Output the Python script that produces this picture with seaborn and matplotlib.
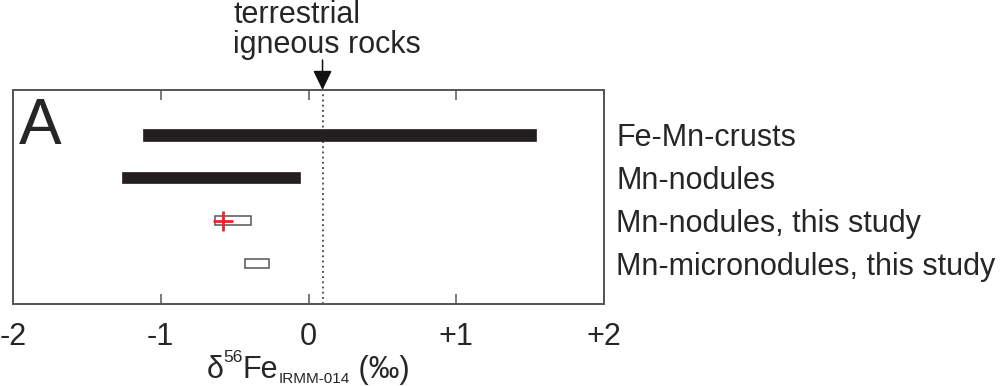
import matplotlib
matplotlib.use("Agg")
import matplotlib.pyplot as plt
import seaborn as sns
import pandas as pd

# Published ranges of delta-56Fe for marine Fe-Mn deposits
categories = ["Fe-Mn-crusts", "Mn-nodules",
              "Mn-nodules, this study", "Mn-micronodules, this study"]
range_low = [-1.12, -1.26, -0.635, -0.43]
range_high = [1.54, -0.06, -0.39, -0.27]
filled = [True, True, False, False]

# Mean value of the nodule samples
mean_x = [-0.58]
mean_cat = ["Mn-nodules, this study"]

# Reference value for terrestrial igneous rocks
igneous_value = 0.095

x_ticks = [-2, -1, 0, 1, 2]
x_ticklabels = ["-2", "-1", "0", "+1", "+2"]

sns.set_style("ticks")
plt.rcParams["font.family"] = ["Liberation Sans", "DejaVu Sans"]

df = pd.DataFrame({"cat": categories, "lo": range_low, "hi": range_high,
                   "filled": filled})
df["width"] = df["hi"] - df["lo"]
df["pos"] = range(len(df))

W, H = 1005, 386
fig = plt.figure(figsize=(W / 100, H / 100), dpi=100)
ax = fig.add_axes([13 / W, 1 - 304 / H, 591 / W, 214 / H])

edge = "#555555"
for _, r in df.iterrows():
    if r["filled"]:
        ax.barh(r["pos"], r["width"], left=r["lo"], height=0.26,
                color="#231f20", edgecolor="#231f20", linewidth=0.5)
    else:
        ax.barh(r["pos"], r["width"], left=r["lo"], height=0.22,
                facecolor="white", edgecolor=edge, linewidth=1.1)

mean_pos = [categories.index(c) for c in mean_cat]
sns.scatterplot(x=mean_x, y=mean_pos, marker="+", s=200, color="#e8262a",
                linewidth=2.0, ax=ax, zorder=5, legend=False)

ax.axvline(igneous_value, color="#222222", linestyle=(0, (1.2, 2.2)),
           linewidth=1.1, zorder=1)

ax.set_xlim(-2, 2)
ax.set_ylim(3.95, -1.05)
ax.set_xticks(x_ticks)
ax.set_xticklabels(x_ticklabels, fontsize=22)
ax.tick_params(axis="x", direction="in", length=7, width=1.1, color=edge,
               top=True, bottom=True, pad=13)
ax.set_xticks([], minor=True)

ax.set_yticks(df["pos"])
ax.set_yticklabels(df["cat"], fontsize=22)
ax.yaxis.tick_right()
ax.tick_params(axis="y", length=0, pad=9, right=True, left=False)

for s in ax.spines.values():
    s.set_color(edge)
    s.set_linewidth(1.4)

# Panel letter
fig.text(19 / W, 1 - 144 / H, "A", fontsize=46, ha="left", va="baseline")

# Arrow marking the igneous-rock value above the panel
ax.annotate("", xy=(igneous_value, -1.05), xycoords="data",
            xytext=(igneous_value, -1.75), textcoords="data",
            arrowprops=dict(arrowstyle="-|>,head_length=1.2,head_width=0.58",
                            color="#111111", linewidth=1.1,
                            shrinkA=0, shrinkB=0),
            annotation_clip=False)
fig.text(233 / W, 1 - 23 / H, "terrestrial", fontsize=22,
         ha="left", va="baseline")
fig.text(233 / W, 1 - 53 / H, "igneous rocks", fontsize=22,
         ha="left", va="baseline")

# Axis label built from pieces: main text, superscript and subscript
label_parts = [("δ", 22, 0), ("56", 12.5, 16), ("Fe", 22, 0),
               ("IRMM-014", 11, -5), (" (‰)", 22, 0)]
renderer = fig.canvas.get_renderer()
baseline_px = 378
x_px = 0.0
artists = []
for txt, size, shift in label_parts:
    t = fig.text(0, 1 - (baseline_px - shift) / H, txt, fontsize=size,
                 ha="left", va="baseline")
    artists.append((t, x_px))
    x_px += t.get_window_extent(renderer).width
center_px = 308
start_px = center_px - x_px / 2
for t, off in artists:
    t.set_x((start_px + off) / W)

fig.savefig("out.png", dpi=100)
